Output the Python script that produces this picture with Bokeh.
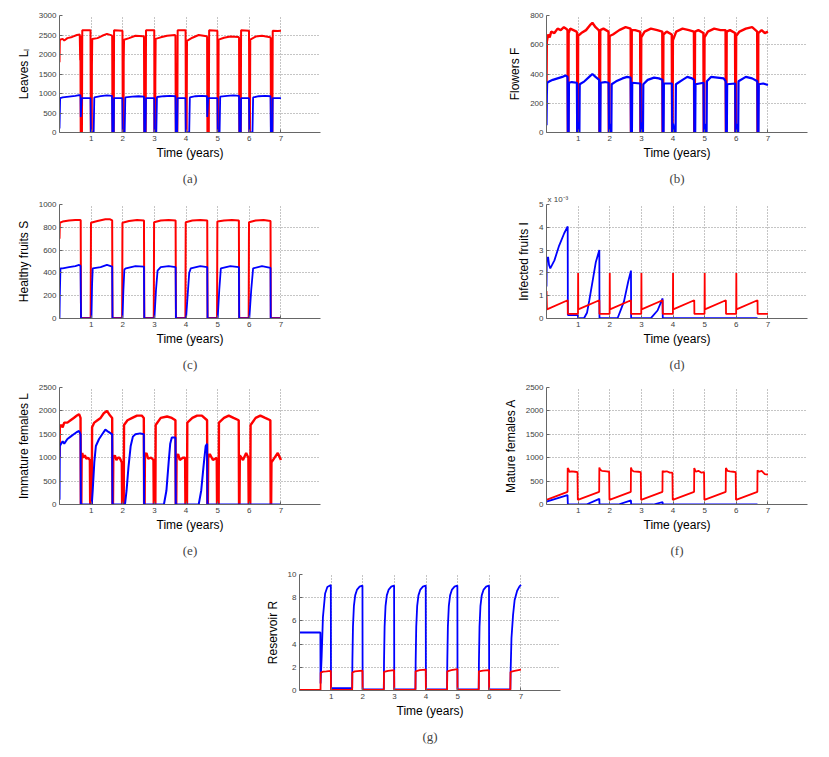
from bokeh.plotting import figure
from bokeh.layouts import column, row
from bokeh.models import Range1d, FixedTicker, Title
from bokeh.embed import file_html
from bokeh.resources import INLINE

# ---------------- data: (time in years, value) ----------------
X_TICKS = [1, 2, 3, 4, 5, 6, 7]

# (a) Leaves
A_RED = [(0.00, 1800), (0.01, 2380), (0.10, 2400), (0.15, 2360), (0.25, 2420), (0.40, 2450), (0.55, 2500),
         (0.64, 2510), (0.655, 1850), (0.66, 2480), (0.67, 0), (0.71, 0), (0.72, 2620), (0.98, 2620), (0.99, 0),
         (1.02, 0), (1.025, 1700), (1.035, 2400), (1.20, 2420), (1.35, 2480), (1.50, 2530), (1.65, 2490),
         (1.665, 2470), (1.675, 0), (1.715, 0), (1.725, 2620), (1.99, 2610), (2.00, 0), (2.025, 0), (2.03, 1800),
         (2.04, 2380), (2.20, 2420), (2.40, 2480), (2.65, 2470), (2.67, 2460), (2.68, 0), (2.725, 0), (2.735, 2620),
         (2.995, 2620), (3.00, 0), (3.025, 0), (3.03, 1350), (3.04, 2400), (3.20, 2440), (3.40, 2480), (3.65, 2500),
         (3.665, 2480), (3.675, 0), (3.725, 0), (3.735, 2620), (3.985, 2620), (3.995, 0), (4.02, 0), (4.03, 2350),
         (4.20, 2430), (4.40, 2500), (4.65, 2470), (4.665, 2450), (4.675, 0), (4.72, 0), (4.73, 2620), (4.99, 2610),
         (5.00, 0), (5.02, 0), (5.03, 2380), (5.20, 2430), (5.40, 2460), (5.66, 2450), (5.675, 2430), (5.685, 0),
         (5.73, 0), (5.74, 2620), (5.99, 2610), (6.00, 0), (6.02, 0), (6.03, 2380), (6.20, 2460), (6.40, 2480),
         (6.66, 2440), (6.675, 2420), (6.685, 0), (6.73, 0), (6.74, 2610), (6.90, 2600), (7.00, 2610)]
A_BLUE = [(0.00, 100), (0.02, 880), (0.10, 900), (0.30, 920), (0.50, 940), (0.62, 960), (0.665, 950), (0.672, 400),
          (0.70, 850), (0.72, 880), (0.98, 880), (0.99, 0), (1.08, 0), (1.10, 900), (1.30, 930), (1.50, 950),
          (1.66, 940), (1.67, 0), (1.715, 0), (1.725, 880), (1.985, 880), (1.995, 0), (2.06, 0), (2.08, 900),
          (2.30, 920), (2.50, 930), (2.67, 920), (2.68, 0), (2.72, 0), (2.735, 880), (2.995, 880), (3.00, 0),
          (3.06, 0), (3.08, 910), (3.30, 930), (3.50, 940), (3.665, 930), (3.675, 0), (3.72, 0), (3.735, 880),
          (3.98, 880), (3.99, 0), (4.10, 0), (4.12, 900), (4.30, 930), (4.50, 940), (4.66, 930), (4.67, 400),
          (4.70, 860), (4.72, 880), (4.99, 880), (5.00, 0), (5.06, 0), (5.08, 920), (5.30, 940), (5.50, 950),
          (5.675, 940), (5.685, 0), (5.73, 0), (5.74, 880), (5.99, 880), (6.00, 0), (6.10, 0), (6.12, 900),
          (6.30, 930), (6.50, 940), (6.67, 930), (6.68, 0), (6.73, 0), (6.74, 880), (7.00, 880)]

# (b) Flowers
B_RED = [(0.00, 300), (0.01, 620), (0.05, 670), (0.10, 650), (0.15, 690), (0.25, 680), (0.35, 710), (0.45, 700),
         (0.55, 720), (0.62, 710), (0.665, 700), (0.675, 0), (0.69, 0), (0.70, 680), (0.75, 710), (0.85, 700),
         (0.95, 690), (0.965, 680), (0.975, 0), (0.99, 0), (1.00, 660), (1.10, 680), (1.25, 700), (1.40, 740),
         (1.45, 750), (1.55, 720), (1.65, 700), (1.665, 690), (1.675, 0), (1.69, 0), (1.70, 700), (1.80, 710),
         (1.96, 690), (1.97, 0), (1.985, 0), (1.995, 660), (2.10, 670), (2.30, 700), (2.50, 720), (2.66, 710),
         (2.67, 0), (2.685, 0), (2.695, 700), (2.80, 700), (2.96, 690), (2.97, 0), (2.985, 0), (2.995, 650),
         (3.10, 690), (3.30, 710), (3.50, 700), (3.66, 690), (3.67, 0), (3.685, 0), (3.695, 670), (3.80, 690),
         (3.96, 670), (3.97, 0), (3.985, 0), (3.995, 630), (4.10, 690), (4.30, 710), (4.50, 700), (4.66, 690),
         (4.67, 0), (4.685, 0), (4.695, 690), (4.80, 700), (4.96, 680), (4.97, 0), (4.985, 0), (4.995, 650),
         (5.10, 690), (5.30, 710), (5.50, 700), (5.66, 700), (5.67, 0), (5.685, 0), (5.695, 690), (5.80, 700),
         (5.96, 680), (5.97, 0), (5.985, 0), (5.995, 660), (6.10, 690), (6.30, 710), (6.50, 720), (6.66, 690),
         (6.67, 0), (6.685, 0), (6.695, 680), (6.80, 700), (6.90, 680), (7.00, 690)]
B_BLUE = [(0.00, 50), (0.01, 250), (0.02, 340), (0.10, 350), (0.20, 360), (0.35, 370), (0.50, 380), (0.60, 390),
          (0.665, 380), (0.675, 0), (0.70, 0), (0.71, 340), (0.80, 345), (0.96, 340), (0.97, 0), (0.99, 70),
          (1.02, 0), (1.04, 0), (1.05, 330), (1.20, 350), (1.35, 380), (1.45, 400), (1.55, 380), (1.665, 360),
          (1.675, 0), (1.70, 0), (1.71, 340), (1.85, 345), (1.965, 340), (1.975, 0), (1.995, 60), (2.03, 0),
          (2.05, 0), (2.06, 330), (2.20, 350), (2.40, 370), (2.55, 380), (2.66, 375), (2.67, 0), (2.70, 0),
          (2.71, 340), (2.965, 335), (2.975, 0), (2.995, 70), (3.03, 0), (3.05, 0), (3.06, 330), (3.20, 360),
          (3.40, 375), (3.55, 370), (3.665, 360), (3.675, 0), (3.70, 0), (3.71, 335), (3.965, 335), (3.975, 0),
          (4.00, 60), (4.04, 0), (4.08, 0), (4.09, 330), (4.30, 360), (4.45, 380), (4.60, 370), (4.665, 360),
          (4.675, 0), (4.70, 0), (4.71, 330), (4.965, 340), (4.975, 0), (5.00, 60), (5.04, 0), (5.06, 0),
          (5.07, 350), (5.20, 380), (5.40, 375), (5.60, 370), (5.665, 350), (5.675, 0), (5.70, 0), (5.71, 330),
          (5.965, 335), (5.975, 0), (6.00, 60), (6.04, 0), (6.06, 0), (6.07, 350), (6.30, 380), (6.50, 370),
          (6.665, 350), (6.675, 0), (6.70, 0), (6.71, 330), (6.85, 335), (7.00, 325)]

# (c) Healthy fruits
C_RED = [(0.00, 700), (0.01, 840), (0.10, 850), (0.30, 860), (0.50, 865), (0.66, 865), (0.67, 860), (0.68, 5),
         (0.985, 5), (0.995, 840), (1.20, 855), (1.45, 870), (1.60, 870), (1.665, 860), (1.675, 5), (1.98, 5),
         (1.99, 840), (2.20, 855), (2.45, 865), (2.67, 860), (2.68, 5), (2.98, 5), (2.99, 845), (3.20, 860),
         (3.45, 865), (3.67, 860), (3.68, 5), (3.98, 5), (3.99, 845), (4.20, 860), (4.45, 865), (4.67, 860),
         (4.68, 5), (4.98, 5), (4.99, 850), (5.20, 860), (5.45, 865), (5.67, 860), (5.68, 5), (5.98, 5),
         (5.99, 845), (6.20, 860), (6.45, 865), (6.67, 855), (6.68, 5), (7.00, 5)]
C_BLUE = [(0.00, 0), (0.01, 200), (0.03, 440), (0.10, 440), (0.30, 450), (0.50, 460), (0.62, 470), (0.665, 460),
          (0.672, 230), (0.68, 0), (1.01, 0), (1.03, 300), (1.05, 440), (1.30, 450), (1.50, 470), (1.665, 455),
          (1.675, 0), (1.99, 0), (2.02, 250), (2.05, 430), (2.10, 440), (2.40, 460), (2.67, 455), (2.675, 230),
          (2.68, 0), (3.00, 0), (3.05, 250), (3.10, 420), (3.20, 450), (3.45, 460), (3.67, 450), (3.675, 230),
          (3.68, 0), (4.00, 0), (4.05, 200), (4.10, 400), (4.15, 440), (4.45, 460), (4.67, 450), (4.675, 220),
          (4.68, 0), (5.00, 0), (5.05, 250), (5.10, 440), (5.40, 460), (5.67, 450), (5.675, 220), (5.68, 0),
          (6.00, 0), (6.06, 250), (6.12, 440), (6.40, 460), (6.67, 445), (6.675, 0), (7.00, 0)]

# (d) Infected fruits, in units of 1e-3
D_BLUE = [(0.00, 1.4), (0.01, 2.7), (0.03, 2.55), (0.05, 2.7), (0.08, 2.35), (0.12, 2.2), (0.25, 2.55),
          (0.40, 3.2), (0.56, 3.74), (0.67, 4.04), (0.675, 0.15), (0.99, 0.15), (1.00, 0.02), (1.19, 0.02),
          (1.28, 0.25), (1.35, 0.77), (1.46, 1.66), (1.56, 2.48), (1.67, 3.0), (1.675, 0.02), (2.25, 0.02),
          (2.45, 0.75), (2.58, 1.6), (2.67, 2.1), (2.675, 0.02), (3.30, 0.02), (3.51, 0.35), (3.67, 0.88),
          (3.675, 0.02), (6.67, 0.02)]
D_RED = [(0.00, 1.2), (0.015, 0.4), (0.67, 0.8), (0.675, 0.2), (0.995, 0.2), (1.00, 2.0), (1.005, 0.4),
         (1.67, 0.8), (1.675, 0.2), (1.995, 0.2), (2.00, 2.0), (2.005, 0.4), (2.67, 0.8), (2.675, 0.2),
         (2.995, 0.2), (3.00, 2.0), (3.005, 0.4), (3.67, 0.8), (3.675, 0.2), (3.995, 0.2), (4.00, 2.0),
         (4.005, 0.4), (4.67, 0.8), (4.675, 0.2), (4.995, 0.2), (5.00, 2.0), (5.005, 0.4), (5.67, 0.8),
         (5.675, 0.2), (5.995, 0.2), (6.00, 2.0), (6.005, 0.4), (6.67, 0.8), (6.675, 0.2), (7.00, 0.2)]

# (e) Immature females
E_RED = [(0.00, 1000), (0.01, 1650), (0.05, 1700), (0.10, 1650), (0.15, 1750), (0.25, 1750), (0.35, 1800),
         (0.45, 1850), (0.55, 1900), (0.62, 1930), (0.665, 1850), (0.675, 0), (0.69, 0), (0.70, 1050),
         (0.72, 1100), (0.75, 1000), (0.80, 1050), (0.85, 980), (0.90, 1000), (0.96, 950), (0.97, 0), (1.02, 0),
         (1.03, 1650), (1.10, 1750), (1.20, 1800), (1.30, 1850), (1.40, 1950), (1.50, 2000), (1.60, 1900),
         (1.665, 1850), (1.675, 0), (1.69, 0), (1.70, 1000), (1.75, 1050), (1.80, 950), (1.85, 1000),
         (1.90, 1000), (1.97, 900), (1.98, 0), (2.03, 0), (2.04, 1700), (2.15, 1800), (2.30, 1850), (2.45, 1900),
         (2.60, 1900), (2.665, 1850), (2.675, 0), (2.69, 0), (2.70, 1050), (2.75, 1100), (2.80, 980),
         (2.90, 1000), (2.97, 950), (2.98, 0), (3.03, 0), (3.04, 1700), (3.20, 1850), (3.40, 1880), (3.55, 1850),
         (3.665, 1800), (3.675, 0), (3.69, 0), (3.70, 1000), (3.75, 1080), (3.80, 950), (3.90, 1000),
         (3.97, 1000), (3.98, 0), (4.03, 0), (4.04, 1750), (4.20, 1850), (4.35, 1900), (4.50, 1900),
         (4.665, 1800), (4.675, 0), (4.69, 0), (4.70, 1000), (4.75, 1080), (4.85, 950), (4.97, 1000), (4.98, 0),
         (5.03, 0), (5.04, 1750), (5.20, 1850), (5.35, 1900), (5.50, 1850), (5.665, 1800), (5.675, 0), (5.69, 0),
         (5.70, 1050), (5.80, 950), (5.90, 1100), (5.97, 1000), (5.98, 0), (6.03, 0), (6.04, 1700), (6.20, 1850),
         (6.35, 1900), (6.50, 1850), (6.665, 1800), (6.675, 0), (6.69, 0), (6.70, 900), (6.80, 1000),
         (6.90, 1100), (7.00, 950)]
E_BLUE = [(0.00, 100), (0.01, 1250), (0.05, 1300), (0.10, 1350), (0.15, 1300), (0.25, 1400), (0.35, 1450),
          (0.45, 1500), (0.55, 1550), (0.62, 1570), (0.665, 1500), (0.675, 0), (1.02, 0), (1.05, 300),
          (1.10, 900), (1.15, 1250), (1.25, 1400), (1.35, 1500), (1.45, 1600), (1.55, 1550), (1.665, 1500),
          (1.675, 0), (2.07, 0), (2.12, 300), (2.18, 800), (2.25, 1250), (2.32, 1450), (2.40, 1500),
          (2.55, 1520), (2.665, 1500), (2.675, 0), (3.30, 0), (3.38, 300), (3.45, 900), (3.50, 1300),
          (3.55, 1430), (3.665, 1430), (3.675, 0), (4.40, 0), (4.48, 300), (4.55, 800), (4.62, 1250),
          (4.665, 1300), (4.675, 0), (7.00, 0)]

# (f) Mature females
F_RED = [(0.00, 100), (0.665, 270), (0.67, 780), (0.70, 750), (0.72, 700), (0.80, 710), (0.90, 700), (0.98, 690),
         (0.99, 100), (1.665, 270), (1.67, 790), (1.70, 740), (1.75, 720), (1.90, 710), (1.98, 700), (1.99, 100),
         (2.665, 270), (2.67, 790), (2.70, 730), (2.75, 710), (2.90, 700), (2.98, 690), (2.99, 100),
         (3.665, 270), (3.67, 720), (3.70, 700), (3.80, 710), (3.90, 680), (3.98, 680), (3.99, 100),
         (4.665, 270), (4.67, 780), (4.72, 700), (4.80, 720), (4.90, 680), (4.98, 690), (4.99, 100),
         (5.665, 270), (5.67, 780), (5.72, 720), (5.80, 710), (5.90, 700), (5.98, 690), (5.99, 100),
         (6.665, 270), (6.67, 730), (6.72, 700), (6.80, 720), (6.90, 650), (7.00, 640)]
F_BLUE = [(0.00, 60), (0.665, 200), (0.675, 0), (1.26, 0), (1.67, 120), (1.675, 0), (2.27, 0), (2.67, 86),
          (2.675, 0), (3.38, 0), (3.67, 50), (3.675, 0), (6.67, 0)]

# (g) Reservoir
G_BLUE = [(0.00, 5.0), (0.66, 5.0), (0.665, 0.6), (0.70, 2.9), (0.74, 6.3), (0.81, 8.36), (0.88, 8.93),
          (0.99, 9.1), (0.995, 0.2), (1.665, 0.2), (1.672, 2.5), (1.69, 5.5), (1.72, 7.3), (1.76, 8.2),
          (1.82, 8.7), (1.90, 8.95), (1.99, 9.05), (1.995, 0.1), (2.665, 0.1), (2.672, 2.5), (2.69, 5.5),
          (2.72, 7.3), (2.76, 8.2), (2.82, 8.7), (2.90, 8.95), (2.99, 9.05), (2.995, 0.1), (3.665, 0.1),
          (3.672, 2.5), (3.69, 5.5), (3.72, 7.3), (3.76, 8.2), (3.82, 8.7), (3.90, 8.95), (3.99, 9.05),
          (3.995, 0.1), (4.665, 0.1), (4.672, 2.5), (4.69, 5.5), (4.72, 7.3), (4.76, 8.2), (4.82, 8.7),
          (4.90, 8.95), (4.99, 9.05), (4.995, 0.1), (5.665, 0.1), (5.672, 2.5), (5.69, 5.5), (5.72, 7.3),
          (5.76, 8.2), (5.82, 8.7), (5.90, 8.95), (5.99, 9.05), (5.995, 0.1), (6.665, 0.1), (6.675, 1.8),
          (6.70, 4.5), (6.75, 6.5), (6.80, 7.8), (6.88, 8.6), (6.95, 8.95), (7.00, 9.1)]
G_RED = [(0.00, 0.05), (0.665, 0.05), (0.67, 1.55), (0.75, 1.62), (0.85, 1.65), (0.99, 1.70), (0.995, 0.05),
         (1.665, 0.05), (1.67, 1.55), (1.75, 1.65), (1.99, 1.72), (1.995, 0.05), (2.665, 0.05), (2.67, 1.60),
         (2.80, 1.70), (2.99, 1.75), (2.995, 0.05), (3.665, 0.05), (3.67, 1.65), (3.80, 1.75), (3.99, 1.80),
         (3.995, 0.05), (4.665, 0.05), (4.67, 1.65), (4.80, 1.75), (4.99, 1.85), (4.995, 0.05), (5.665, 0.05),
         (5.67, 1.65), (5.80, 1.72), (5.99, 1.75), (5.995, 0.05), (6.665, 0.05), (6.67, 1.60), (6.80, 1.70),
         (7.00, 1.80)]

RED = "#ff0000"
BLUE = "#0000ff"
SANS = "Liberation Sans"
SERIF = "Liberation Serif"


def make_fig(ymax, ystep, ylabel, caption, left, top, fh, bottom, right):
    p = figure(frame_width=261, frame_height=fh, x_range=Range1d(0, 8.25), y_range=Range1d(0, ymax),
               output_backend="svg", toolbar_location=None,
               min_border_left=left, min_border_top=top, min_border_bottom=bottom, min_border_right=right)
    p.outline_line_color = None
    p.background_fill_color = "white"
    p.border_fill_color = "white"
    p.xaxis.ticker = FixedTicker(ticks=X_TICKS)
    yt = [ystep * i for i in range(int(round(ymax / ystep)) + 1)]
    p.yaxis.ticker = FixedTicker(ticks=yt)
    for ax in (p.xaxis[0], p.yaxis[0]):
        ax.axis_line_color = "#666666"
        ax.major_tick_line_color = "#666666"
        ax.major_tick_in = 3
        ax.major_tick_out = 0
        ax.minor_tick_line_color = None
        ax.major_label_text_font = SANS
        ax.major_label_text_font_size = "8px"
        ax.major_label_text_color = "#404040"
        ax.axis_label_text_font = SANS
        ax.axis_label_text_font_size = "12px"
        ax.axis_label_text_font_style = "normal"
        ax.axis_label_text_color = "#000000"
    p.xaxis.axis_label = "Time (years)"
    p.xaxis.major_label_standoff = 3
    p.xaxis.axis_label_standoff = 2
    p.yaxis.axis_label = ylabel
    p.yaxis.major_label_standoff = 3
    p.yaxis.axis_label_standoff = 5
    p.xgrid.ticker = FixedTicker(ticks=X_TICKS)
    p.ygrid.ticker = FixedTicker(ticks=yt)
    p.grid.grid_line_color = "#8a8a8a"
    p.grid.grid_line_dash = "1 2"
    p.grid.grid_line_width = 1
    p.add_layout(Title(text=caption, align="center", text_font=SERIF, text_font_size="13px",
                       text_font_style="normal", standoff=12), "below")
    return p


def draw(p, pts, color, width=1.8):
    t = [a for a, b in pts]
    v = [b for a, b in pts]
    p.line(t, v, line_color=color, line_width=width)


LEFT1, RIGHT1, LEFT2, RIGHT2 = 59, 16, 210, 12

pa = make_fig(3000, 500, "Leaves Lₗ", "(a)", LEFT1, 15, 117, 58, RIGHT1)
draw(pa, A_RED, RED, 2)
draw(pa, A_BLUE, BLUE)

pb = make_fig(800, 200, "Flowers F", "(b)", LEFT2, 15, 117, 58, RIGHT2)
draw(pb, B_RED, RED, 2.4)
draw(pb, B_BLUE, BLUE, 2.2)

pc = make_fig(1000, 200, "Healthy fruits S", "(c)", LEFT1, 13, 114, 56, RIGHT1)
draw(pc, C_RED, RED, 2)
draw(pc, C_BLUE, BLUE)

pd = make_fig(5, 1, "Infected fruits I", "(d)", LEFT2, 13, 114, 56, RIGHT2)
draw(pd, D_BLUE, BLUE)
draw(pd, D_RED, RED)
pd.add_layout(Title(text="x 10\u207b\u00b3", align="left", offset=1, standoff=1, text_font=SANS,
                    text_font_size="8px", text_font_style="normal", text_color="#404040"), "above")

pe = make_fig(2500, 500, "Immature females L", "(e)", LEFT1, 10, 117, 52, RIGHT1)
draw(pe, E_RED, RED, 2.4)
draw(pe, E_BLUE, BLUE, 2)

pf = make_fig(2500, 500, "Mature females A", "(f)", LEFT2, 10, 117, 52, RIGHT2)
draw(pf, F_RED, RED)
draw(pf, F_BLUE, BLUE)

pg = make_fig(10, 2, "Reservoir R", "(g)", 299, 11, 116, 58, 12)
draw(pg, G_BLUE, BLUE)
draw(pg, G_RED, RED)

layout = column(row(pa, pb), row(pc, pd), row(pe, pf), row(pg), spacing=0)
open("out.html", "w").write(file_html(layout, INLINE))
